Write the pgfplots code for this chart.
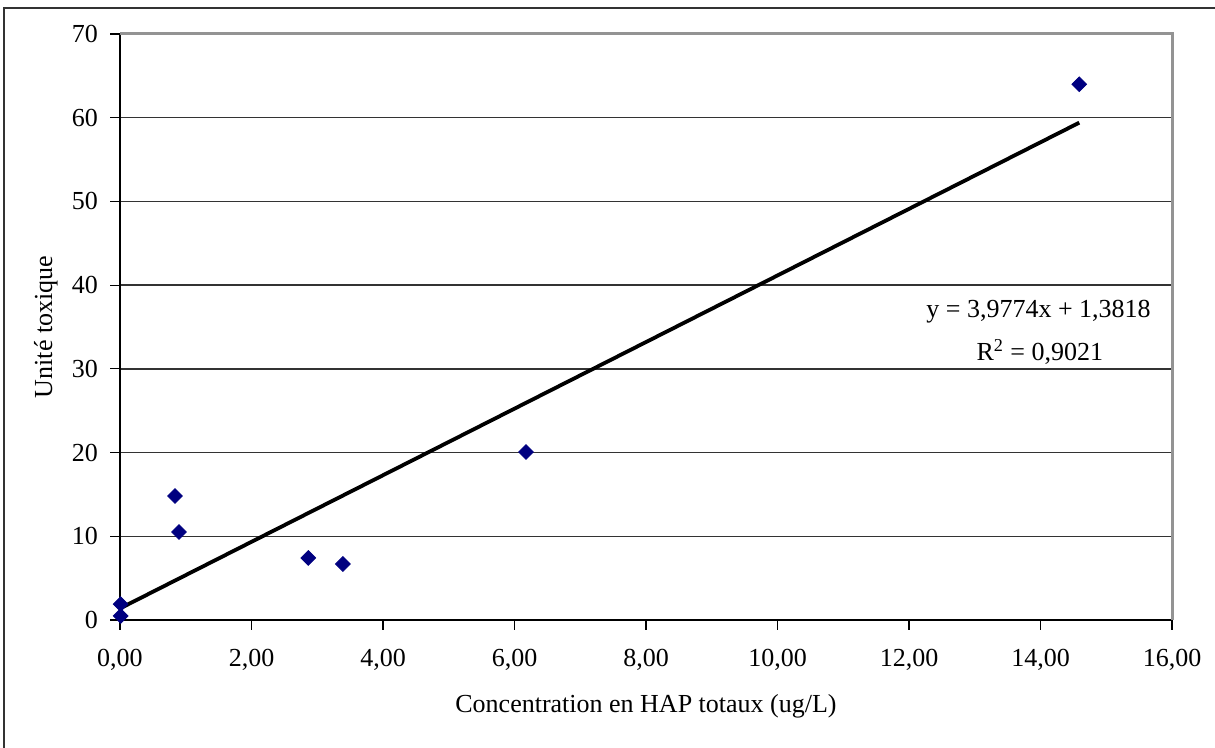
\documentclass[border=0pt]{standalone}
\usepackage{fontspec}
\setmainfont{Liberation Serif}
\usepackage{pgfplots}
\pgfplotsset{compat=1.18}
\definecolor{navy}{HTML}{000080}
\begin{document}
\fontsize{13}{15.5}\selectfont
\begin{tikzpicture}
\useasboundingbox (0,0) rectangle (607.5pt,374pt);
\draw[black!80, line width=1pt] (1.75pt,-20pt) rectangle (630pt,370pt);
\begin{axis}[
  at={(60pt,64pt)}, anchor=south west,
  scale only axis, width=526pt, height=293pt,
  xmin=0, xmax=16, ymin=0, ymax=70,
  xtick={0,2,...,16}, ytick={0,10,...,70},
  axis lines=left, axis line style={-, black, line width=1pt},
  tick align=outside, major tick length=5pt,
  tick style={black, line width=0.6pt},
  ymajorgrids, grid style={black!80, line width=0.75pt},
  x tick label style={/pgf/number format/fixed, /pgf/number format/fixed zerofill, /pgf/number format/precision=2, /pgf/number format/use comma, /pgf/number format/assume math mode=true, yshift=-5pt},
  y tick label style={/pgf/number format/assume math mode=true, xshift=-1.5pt},
  xlabel={Concentration en HAP totaux (ug/L)},
  ylabel={Unité toxique},
  xlabel style={at={(axis description cs:0.5,-0.147)}, anchor=center},
  ylabel style={at={(axis description cs:-0.0705,0.5)}, anchor=center, rotate=0},
  clip=false,
]
\draw[gray!85, line width=1.5pt] (rel axis cs:0,1) -- (rel axis cs:1,1) -- (rel axis cs:1,0);
\draw[black, line width=0.6pt] (rel axis cs:0,1) -- ++(-5pt,0);
\addplot[black, line width=1.9pt, no marks] coordinates {(0,1.3818) (14.59,59.41)};
\addplot[only marks, mark=square*, mark size=2.6pt, mark options={rotate=45, fill=navy, draw=navy}] coordinates {
(0.01,0.48) (0.01,1.9) (0.836,14.81) (0.897,10.51) (2.864,7.41) (3.39,6.69) (6.175,20.07) (14.59,64.0)
};
\node[align=center, anchor=center] at (axis cs:13.97,36.8) {y = 3,9774x + 1,3818};
\node[anchor=center] at (axis cs:13.99,32.0) {R\textsuperscript{2} = 0,9021};
\end{axis}
\end{tikzpicture}
\end{document}
